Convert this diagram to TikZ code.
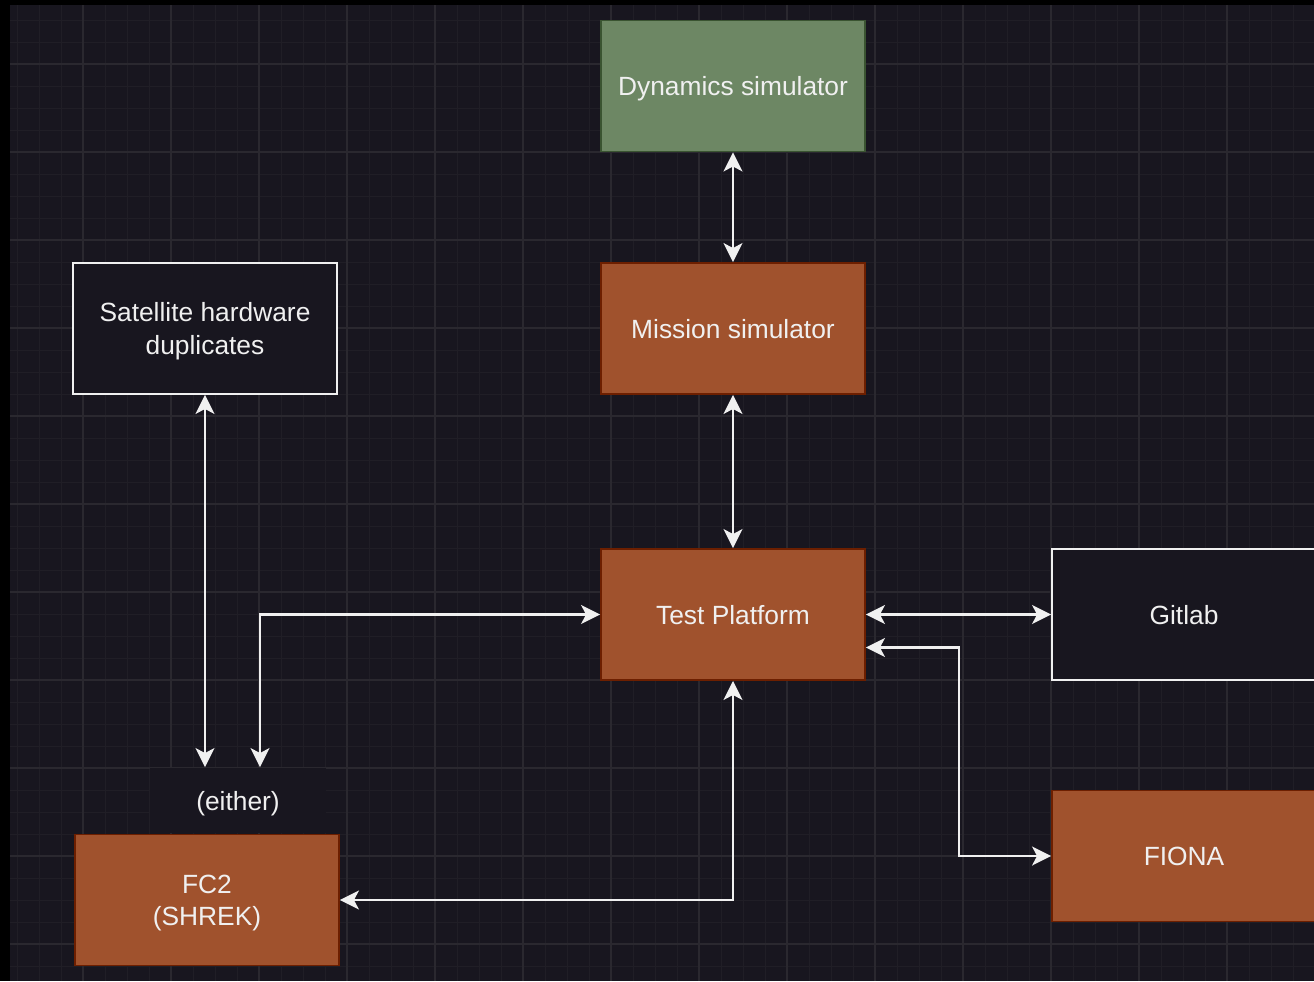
\documentclass[tikz,border=0pt]{standalone}
\usepackage{fontspec}
\setmainfont{Liberation Sans}
\usetikzlibrary{arrows.meta,calc}
\definecolor{canvas}{HTML}{18161F}
\definecolor{gridminor}{HTML}{201E26}
\definecolor{gridmajor}{HTML}{2A282F}
\definecolor{rustfill}{HTML}{A0522D}
\definecolor{rustline}{HTML}{6D1F00}
\definecolor{sagefill}{HTML}{6D8764}
\definecolor{sageline}{HTML}{3A5431}
\definecolor{inkwhite}{HTML}{F0F0F0}
\tikzset{
  block/.style={rectangle, minimum width=5.28cm, minimum height=2.62cm,
    line width=1.1pt, align=center, text=inkwhite,
    text height=10.9pt, text depth=0pt,
    font=\fontsize{15}{18.6}\selectfont},
  twoline/.style={text height=29.5pt, text depth=0pt},
  rustbox/.style={block, fill=rustfill, draw=rustline},
  sagebox/.style={block, fill=sagefill, draw=sageline},
  darkbox/.style={block, fill=canvas, draw=inkwhite},
  link/.style={draw=inkwhite, line width=1.3pt,
    {Stealth[length=0.38cm,width=0.38cm,inset=0.1cm]}-{Stealth[length=0.38cm,width=0.38cm,inset=0.1cm]}}
}
\begin{document}
\begin{tikzpicture}[x=0.02cm, y=-0.02cm]
                    \useasboundingbox (0,0) rectangle (1314,981);
                    {
                    % Backdrop and grid
                    \fill [black] (0,0) rectangle (1314,981);%
                    \fill [canvas] (10,5) rectangle (1314,981);%
                    \foreach \gx in {17,39,...,1314} {
                      \draw [gridminor, line width=0.5pt] (\gx,5) -- (\gx,981);%
                    }
                    \foreach \gy in {20,42,...,981} {
                      \draw [gridminor, line width=0.5pt] (10,\gy) -- (1314,\gy);%
                    }
                    \foreach \gx in {83,171,...,1314} {
                      \draw [gridmajor, line width=0.6pt] (\gx,5) -- (\gx,981);%
                    }
                    \foreach \gy in {64,152,...,981} {
                      \draw [gridmajor, line width=0.6pt] (10,\gy) -- (1314,\gy);%
                    }

                    % Box Dynamics simulator
                    \node [sagebox] (dyn) at (733,86) {Dynamics simulator};%

                    % Box Mission simulator
                    \node [rustbox] (mission) at (733,328.5) {Mission simulator};%

                    % Box Satellite hardware duplicates
                    \node [darkbox, twoline] (sathw) at (205,328.5) {Satellite hardware\\duplicates};%

                    % Box Test Platform
                    \node [rustbox] (test) at (733,614.5) {Test Platform};%

                    % Box Gitlab
                    \node [darkbox] (gitlab) at (1184,614.5) {Gitlab};%

                    % Box FIONA
                    \node [rustbox] (fiona) at (1184,856) {FIONA};%

                    % Box FC2
                    \node [rustbox, twoline] (fc2) at (207,900) {FC2\\(SHREK)};%

                    % Label (either)
                    \node [block, fill=canvas, minimum width=3.52cm, minimum height=1.3cm] (either) at (238,800.5) {(either)};%

                    % Links
                    \draw [link] (dyn.south) -- (mission.north);%
                    \draw [link] (mission.south) -- (test.north);%
                    \draw [link] (sathw.south) -- (sathw.south |- either.north);%
                    \draw [link] (test.west) -| ($(either.north)+(22,0)$);%
                    \draw [link] (test.east) -- (gitlab.west);%
                    \draw [link] ([yshift=-0.66cm]test.east) -- ++(93,0) |- (fiona.west);%
                    \draw [link] (test.south) |- (fc2.east);%
                    }
                    \end{tikzpicture}
\end{document}
